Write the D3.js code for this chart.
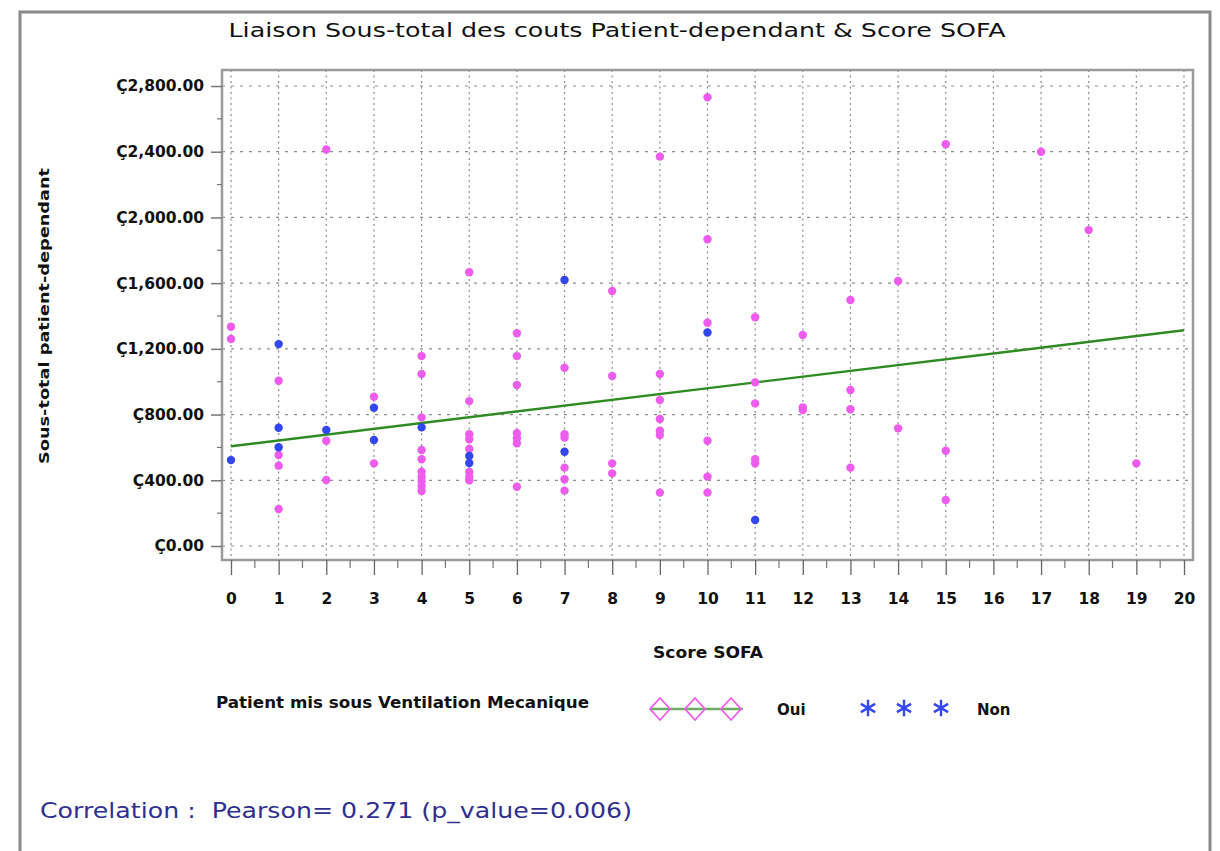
<!DOCTYPE html>
<html>
<head>
<meta charset="utf-8">
<script src="https://cdn.jsdelivr.net/npm/d3@7"></script>
<style>
  html, body { margin: 0; padding: 0; background: #fff; }
  svg { display: block; }
  text { white-space: pre; }
</style>
</head>
<body>
<svg id="chart" width="1220" height="851"></svg>
<script>
// ---------- data ----------
const ouiSofa = [0,0, 1,1,1,1, 2,2,2, 3,3, 4,4,4,4,4,4,4,4,4,4, 5,5,5,5,5,5,5,5,
  6,6,6,6,6,6,6, 7,7,7,7,7,7, 8,8,8,8, 9,9,9,9,9,9,9, 10,10,10,10,10,10,
  11,11,11,11,11, 12,12,12, 13,13,13,13, 14,14, 15,15,15, 17, 18, 19];
const ouiCost = [1335,1260, 1006,554,489,225, 2414,641,402, 909,503,
  1156,1047,783,584,528,452,420,395,365,335, 1666,882,680,650,590,450,420,400,
  1295,1156,980,686,656,625,361, 1085,680,660,477,406,337, 1552,1035,503,442,
  2370,1047,889,773,702,675,325, 2731,1867,1359,641,422,325,
  1392,996,868,528,503, 1284,844,828, 1497,950,832,477, 1613,716, 2445,580,280, 2400, 1923, 503];
const nonSofa = [0, 1,1,1, 2, 3,3, 4, 5,5, 7,7, 10, 11];
const nonCost = [523, 1229,720,601, 706, 842,645, 722, 548,505, 1619,574, 1300, 158];

const regIntercept = 607;
const regSlope = 35.3;

const xTicks = d3.range(0, 21);
const yTicks = [0, 400, 800, 1200, 1600, 2000, 2400, 2800];
const yTickLabels = ["Ç0.00","Ç400.00","Ç800.00","Ç1,200.00","Ç1,600.00","Ç2,000.00","Ç2,400.00","Ç2,800.00"];

const titleText = "Liaison Sous-total des couts Patient-dependant & Score SOFA";
const xTitle = "Score SOFA";
const yTitle = "Sous-total patient-dependant";
const legendTitle = "Patient mis sous Ventilation Mecanique";
const legendLabels = ["Oui", "Non"];
const footnote = "Correlation :  Pearson= 0.271 (p_value=0.006)";

// ---------- styles ----------
const pink = "#ee5cee";
const blue = "#3347f0";
const green = "#2e8b22";
const font = "DejaVu Sans, Arial, sans-serif";

const svg = d3.select("#chart");

// outer frame
svg.append("rect").attr("x", 20).attr("y", 12).attr("width", 1190).attr("height", 860)
  .attr("fill", "none").attr("stroke", "#8a8a8a").attr("stroke-width", 3);

const x = d3.scaleLinear().domain([0, 20]).range([231, 1184]);
const y = d3.scaleLinear().domain([0, 2800]).range([546, 86]);
const frame = {left: 222, top: 70, right: 1193, bottom: 560};

// gridlines
const grid = svg.append("g");
grid.selectAll("line.v").data(xTicks).join("line")
  .attr("x1", d => x(d)).attr("x2", d => x(d))
  .attr("y1", frame.top).attr("y2", frame.bottom)
  .attr("stroke", "#8c8c8c").attr("stroke-width", 1.2).attr("stroke-dasharray", "2,3.5");
grid.selectAll("line.h").data(yTicks).join("line")
  .attr("y1", d => y(d)).attr("y2", d => y(d))
  .attr("x1", frame.left).attr("x2", frame.right)
  .attr("stroke", "#8c8c8c").attr("stroke-width", 1.2).attr("stroke-dasharray", "3,6");

// plot frame
svg.append("rect").attr("x", frame.left).attr("y", frame.top)
  .attr("width", frame.right - frame.left).attr("height", frame.bottom - frame.top)
  .attr("fill", "none").attr("stroke", "#9a9a9a").attr("stroke-width", 2.5);

// y axis
const yAxis = d3.axisLeft(y).tickValues(yTicks)
  .tickFormat((d, i) => yTickLabels[i]).tickSize(11).tickPadding(7);
const gy = svg.append("g").attr("transform", `translate(${frame.left},0)`).call(yAxis);
gy.select(".domain").remove();
gy.selectAll(".tick line").attr("stroke", "#777").attr("stroke-width", 1.5);
gy.selectAll(".tick text").attr("font-family", font).attr("font-size", 15.5)
  .attr("font-weight", "bold").attr("fill", "#111");
// minor y ticks
svg.append("g").selectAll("line").data(yTicks.slice(0, -1).map(d => d + 200)).join("line")
  .attr("x1", frame.left - 5).attr("x2", frame.left)
  .attr("y1", d => y(d)).attr("y2", d => y(d))
  .attr("stroke", "#777").attr("stroke-width", 1.2);

// x axis
const xAxis = d3.axisBottom(x).tickValues(xTicks).tickSize(15).tickPadding(18);
const gx = svg.append("g").attr("transform", `translate(0,${frame.bottom})`).call(xAxis);
gx.select(".domain").remove();
gx.selectAll(".tick line").attr("stroke", "#666").attr("stroke-width", 1.3);
gx.selectAll(".tick text").attr("font-family", font).attr("font-size", 15.5)
  .attr("font-weight", "bold").attr("fill", "#111");
// minor x ticks
svg.append("g").selectAll("line").data(xTicks.slice(0, -1).map(d => d + 0.5)).join("line")
  .attr("x1", d => x(d)).attr("x2", d => x(d))
  .attr("y1", frame.bottom).attr("y2", frame.bottom + 8)
  .attr("stroke", "#777").attr("stroke-width", 1.2);

// regression line
const regLine = d3.line().x(d => x(d)).y(d => y(regIntercept + regSlope * d));
svg.append("path").datum([0, 20]).attr("d", regLine)
  .attr("fill", "none").attr("stroke", green).attr("stroke-width", 2.4);

// points
svg.append("g").selectAll("circle").data(ouiSofa.map((s, i) => [s, ouiCost[i]])).join("circle")
  .attr("cx", d => x(d[0])).attr("cy", d => y(d[1])).attr("r", 4.2).attr("fill", pink);
svg.append("g").selectAll("circle").data(nonSofa.map((s, i) => [s, nonCost[i]])).join("circle")
  .attr("cx", d => x(d[0])).attr("cy", d => y(d[1])).attr("r", 4.2).attr("fill", blue);

// title
svg.append("text").attr("x", 617).attr("y", 37).attr("text-anchor", "middle")
  .attr("font-family", font).attr("font-size", 19).attr("fill", "#111")
  .attr("textLength", 777).attr("lengthAdjust", "spacingAndGlyphs").text(titleText);

// axis titles
svg.append("text").attr("x", 708).attr("y", 658).attr("text-anchor", "middle")
  .attr("font-family", font).attr("font-size", 15).attr("font-weight", "bold").attr("fill", "#111")
  .attr("textLength", 110).attr("lengthAdjust", "spacingAndGlyphs").text(xTitle);
svg.append("text").attr("transform", "translate(49,316) rotate(-90)").attr("text-anchor", "middle")
  .attr("font-family", font).attr("font-size", 14).attr("font-weight", "bold").attr("fill", "#111")
  .attr("textLength", 296).attr("lengthAdjust", "spacingAndGlyphs").text(yTitle);

// legend
svg.append("text").attr("x", 216).attr("y", 708)
  .attr("font-family", font).attr("font-size", 15).attr("font-weight", "bold").attr("fill", "#111")
  .attr("textLength", 373).attr("lengthAdjust", "spacingAndGlyphs").text(legendTitle);
const lg = svg.append("g");
lg.append("line").attr("x1", 650).attr("x2", 743).attr("y1", 709).attr("y2", 709)
  .attr("stroke", green).attr("stroke-width", 2.6).attr("opacity", 0.7);
const diamondPath = "M0,-11L10,0L0,11L-10,0Z";
lg.selectAll("path.dm").data([660, 695, 731]).join("path")
  .attr("transform", d => `translate(${d},709)`).attr("d", diamondPath)
  .attr("fill", "none").attr("stroke", pink).attr("stroke-width", 1.8);
lg.append("text").attr("x", 777).attr("y", 715).attr("font-family", font).attr("font-size", 15)
  .attr("font-weight", "bold").attr("fill", "#111").text(legendLabels[0]);
const star = d3.symbol().type(d3.symbolAsterisk).size(190);
lg.selectAll("path.st").data([868, 904, 941]).join("path")
  .attr("transform", d => `translate(${d},708)`).attr("d", star)
  .attr("fill", "none").attr("stroke", blue).attr("stroke-width", 2.4);
lg.append("text").attr("x", 977).attr("y", 715).attr("font-family", font).attr("font-size", 15)
  .attr("font-weight", "bold").attr("fill", "#111").text(legendLabels[1]);

// footnote
svg.append("text").attr("x", 40).attr("y", 818)
  .attr("font-family", font).attr("font-size", 21).attr("fill", "#2f2f8f")
  .attr("textLength", 592).attr("lengthAdjust", "spacingAndGlyphs").text(footnote);
</script>
</body>
</html>
